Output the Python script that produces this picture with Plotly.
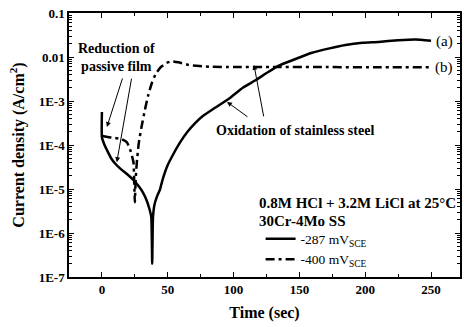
import plotly.graph_objects as go

# Current transient at -287 mV(SCE)
time_a = [0, 0, 2, 4, 7, 10, 14, 19, 24, 28, 31, 34, 36, 37.5, 38.2, 38.8, 40, 42, 44,
          46, 50, 54, 59, 65, 71, 76, 86, 97, 107, 117, 126, 134, 147, 159, 172, 185,
          198, 210, 225, 238, 250]
current_a = [5.6e-4, 1.5e-4, 1.0e-4, 7.5e-5, 5.0e-5, 3.8e-5, 2.9e-5, 2.2e-5, 1.6e-5,
             1.15e-5, 8.5e-6, 5.5e-6, 3.6e-6, 2.3e-6, 2.0e-7, 2.3e-6, 4.5e-6, 7.0e-6,
             9.5e-6, 1.6e-5, 3.5e-5, 6.0e-5, 1.1e-4, 2.0e-4, 3.2e-4, 4.4e-4, 7.0e-4,
             1.15e-3, 2.0e-3, 3.0e-3, 4.5e-3, 6.3e-3, 9.0e-3, 1.23e-2, 1.55e-2, 1.87e-2,
             2.1e-2, 2.2e-2, 2.4e-2, 2.5e-2, 2.35e-2]

# Current transient at -400 mV(SCE)
time_b = [0.5, 5, 10, 15, 19, 22, 24, 25, 25.6, 26.5, 28, 30, 33, 35, 38, 41, 45, 49,
          53, 58, 66, 82, 100, 130, 170, 210, 250]
current_b = [1.6e-4, 1.5e-4, 1.45e-4, 1.35e-4, 1.15e-4, 7.0e-5, 4.0e-5, 5.0e-6, 1.5e-5,
             4.0e-5, 1.1e-4, 2.5e-4, 7.0e-4, 1.3e-3, 2.6e-3, 4.2e-3, 6.0e-3, 7.3e-3,
             8.0e-3, 7.6e-3, 6.6e-3, 6.0e-3, 5.9e-3, 5.9e-3, 5.9e-3, 5.85e-3, 5.85e-3]

series_names = ["-287 mV<sub>SCE</sub>", "-400 mV<sub>SCE</sub>"]
curve_labels = ["(a)", "(b)"]
legend_header = ["0.8M HCl + 3.2M LiCl at 25°C", "30Cr-4Mo SS"]

x_tick_vals = [0, 50, 100, 150, 200, 250]
x_minor_vals = [25, 75, 125, 175, 225]
y_tick_vals = [1e-1, 1e-2, 1e-3, 1e-4, 1e-5, 1e-6, 1e-7]
y_tick_text = ["0.1", "0.01", "1E-3", "1E-4", "1E-5", "1E-6", "1E-7"]
y_minor_vals = [m * 10.0 ** e for e in range(-7, -1) for m in range(2, 10)]

SERIF = "Liberation Serif"

fig = go.Figure()
fig.add_trace(go.Scatter(
    x=time_a, y=current_a, mode="lines", name=series_names[0],
    line=dict(color="black", width=2.5, shape="spline", smoothing=0.4),
))
fig.add_trace(go.Scatter(
    x=time_b, y=current_b, mode="lines", name=series_names[1],
    line=dict(color="black", width=2.5, dash="9px,4px,3px,4px",
              shape="spline", smoothing=0.4),
))

# curve tags at the right-hand end of each transient
fig.add_annotation(x=260, y=-1.64, text=curve_labels[0], showarrow=False,
                   font=dict(family=SERIF, size=15, color="black"))
fig.add_annotation(x=260, y=-2.23, text=curve_labels[1], showarrow=False,
                   font=dict(family=SERIF, size=15, color="black"))

bold14 = dict(family=SERIF, size=14, color="black", weight="bold")
fig.add_annotation(x=11.3, y=-2.02, text="Reduction of<br>passive film",
                   showarrow=False, font=bold14)
fig.add_annotation(x=147, y=-3.66, text="Oxidation of stainless steel",
                   showarrow=False, font=bold14)

arrow_style = dict(showarrow=True, arrowhead=2, arrowsize=1.0, arrowwidth=1,
                   arrowcolor="black", text="")
# pointers: (tip time, tip log-current, tail offset in px)
fig.add_annotation(x=3.8, y=-3.59, ax=16, ay=-50, **arrow_style)
fig.add_annotation(x=11.3, y=-4.39, ax=15, ay=-85, **arrow_style)
fig.add_annotation(x=95, y=-3.02, ax=22, ay=16, **arrow_style)
fig.add_annotation(x=115.5, y=-2.18, ax=10, ay=53, **arrow_style)

# solution / alloy header above the legend entries
bold15 = dict(family=SERIF, size=15, color="black", weight="bold")
fig.add_annotation(xref="paper", yref="paper", x=0.481, y=0.280, xanchor="left",
                   yanchor="middle", text=legend_header[0], showarrow=False,
                   font=bold15)
fig.add_annotation(xref="paper", yref="paper", x=0.481, y=0.212, xanchor="left",
                   yanchor="middle", text=legend_header[1], showarrow=False,
                   font=bold15)

# faint dotted guide at t = 200 s near the top of the frame
fig.add_shape(type="line", x0=200, x1=200, y0=-2.75, y1=-1, xref="x", yref="y",
              line=dict(color="#555555", width=1, dash="dot"))

axis_common = dict(
    showline=True, linecolor="black", linewidth=1.5, mirror="ticks",
    ticks="inside", ticklen=5, tickwidth=1, tickcolor="black",
    showgrid=False, zeroline=False,
    tickfont=dict(family=SERIF, size=13, color="black", weight="bold"),
)

fig.update_xaxes(
    range=[-25, 272], tickmode="array", tickvals=x_tick_vals,
    minor=dict(tickmode="array", tickvals=x_minor_vals, ticks="inside",
               ticklen=3, tickcolor="black"),
    title=dict(text="Time (sec)", standoff=10,
               font=dict(family=SERIF, size=16, color="black", weight="bold")),
    **axis_common,
)
fig.update_yaxes(
    type="log", range=[-7, -1], tickmode="array", tickvals=y_tick_vals,
    ticktext=y_tick_text,
    minor=dict(tickmode="array", tickvals=y_minor_vals, ticks="inside",
               ticklen=3, tickcolor="black"),
    title=dict(text="Current density (A/cm<sup>2</sup>)", standoff=10,
               font=dict(family=SERIF, size=16, color="black", weight="bold")),
    **axis_common,
)

fig.update_layout(
    width=464, height=327,
    margin=dict(l=69, r=2, t=13, b=50),
    plot_bgcolor="white", paper_bgcolor="white",
    showlegend=True,
    legend=dict(
        x=0.49, y=0.203, xanchor="left", yanchor="top",
        bgcolor="rgba(0,0,0,0)", borderwidth=0,
        font=dict(family=SERIF, size=13.5, color="black"),
        tracegroupgap=0, itemwidth=30,
    ),
)

fig.write_html("out.html")
